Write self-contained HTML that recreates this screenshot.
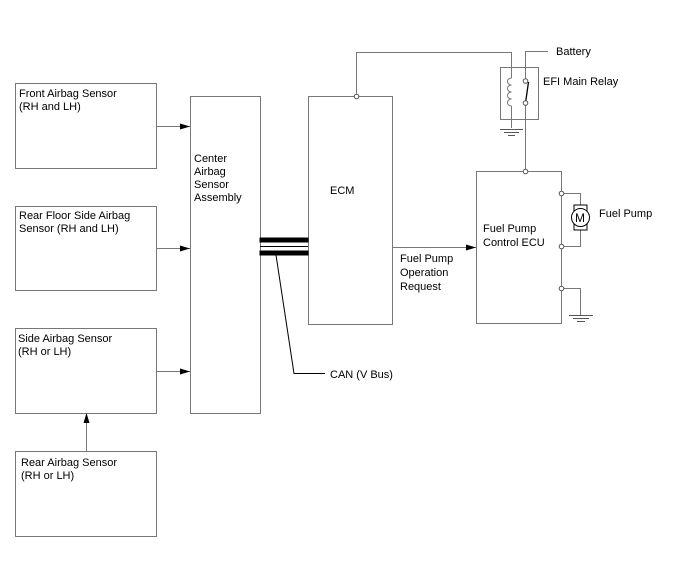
<!DOCTYPE html>
<html><head><style>
body{margin:0;background:#fff}
svg text{font-family:"Liberation Sans",Arial,sans-serif;font-size:11px;fill:#000}
</style></head><body>
<svg width="688" height="560" viewBox="0 0 688 560" xmlns="http://www.w3.org/2000/svg">
<defs><marker id="a" markerWidth="10" markerHeight="6" refX="10" refY="3" orient="auto" markerUnits="userSpaceOnUse"><path d="M0,0 L10,3 L0,6 Z" fill="#000"/></marker></defs>
<g fill="none" stroke="#777" stroke-width="1">
<rect x="15.5" y="83.5" width="141" height="85"/>
<rect x="15.5" y="206.5" width="141" height="84"/>
<rect x="15.5" y="328.5" width="141" height="85"/>
<rect x="15.5" y="451.5" width="141" height="85"/>
<rect x="190.5" y="96.5" width="70" height="317"/>
<rect x="308.5" y="96.5" width="84" height="228"/>
<rect x="476.5" y="171.5" width="85" height="152"/>
<rect x="500.5" y="67.5" width="38" height="52"/>
<path d="M356.5 96V52.5H511.5V78M511.5 106V128"/>
<path d="M525.5 103V171M525.5 81V51.5H548"/>
<path d="M561 193.5H580.5V206M580.5 229V246.5H561M561 288.5H580.5V315"/>
</g>
<g stroke="#777" fill="none">
<path d="M511.5 78 a4 3.5 0 0 0 0 7 a4 3.5 0 0 0 0 7 a4 3.5 0 0 0 0 7 a4 3.5 0 0 0 0 7"/>
</g>
<path d="M156 126.5H190" stroke="#777" marker-end="url(#a)"/>
<path d="M156 248.5H190" stroke="#777" marker-end="url(#a)"/>
<path d="M156 371.5H190" stroke="#777" marker-end="url(#a)"/>
<path d="M86.5 451V413" stroke="#777" marker-end="url(#a)"/>
<path d="M392 247.5H476" stroke="#777" marker-end="url(#a)"/>
<g stroke="#000">
<path d="M500 129.5H523M504 132.5H519M508 135.5H515" stroke="#555"/>
<path d="M569 315.5H593M573 318.5H589M577 321.5H585" stroke="#555"/>
<path d="M525.5 103L528.5 82" stroke-width="1.3"/>
<rect x="260" y="238" width="48" height="4" fill="#000"/>
<rect x="260" y="251" width="48" height="4" fill="#000"/>
<path d="M260 246.5H308" stroke-width="1"/>
<path d="M276 255L294 373.5H325" fill="none"/>
</g>
<rect x="574" y="205" width="13" height="25" fill="#fff" stroke="#000"/>
<circle cx="580.5" cy="217.5" r="9" fill="#fff" stroke="#000"/>
<text x="575" y="222" style="font-size:12px">M</text>
<g fill="#fff" stroke="#555">
<circle cx="356.5" cy="96.5" r="2.3"/>
<circle cx="525.5" cy="81" r="2.3"/>
<circle cx="525.5" cy="103" r="2.3"/>
<circle cx="525.5" cy="171.5" r="2.3"/>
<circle cx="561.5" cy="193.5" r="2.3"/>
<circle cx="561.5" cy="246.5" r="2.3"/>
<circle cx="561.5" cy="288.5" r="2.3"/>
</g>
<text x="19" y="97">Front Airbag Sensor</text><text x="19" y="110">(RH and LH)</text>
<text x="19" y="219">Rear Floor Side Airbag</text><text x="19" y="232">Sensor (RH and LH)</text>
<text x="18" y="342">Side Airbag Sensor</text><text x="18" y="355">(RH or LH)</text>
<text x="21" y="466">Rear Airbag Sensor</text><text x="21" y="479">(RH or LH)</text>
<text x="194" y="162">Center</text><text x="194" y="175">Airbag</text><text x="194" y="188">Sensor</text><text x="194" y="201">Assembly</text>
<text x="330" y="194">ECM</text>
<text x="483" y="232">Fuel Pump</text><text x="483" y="246">Control ECU</text>
<text x="400" y="262">Fuel Pump</text><text x="400" y="276">Operation</text><text x="400" y="290">Request</text>
<text x="556" y="55">Battery</text>
<text x="543" y="85">EFI Main Relay</text>
<text x="599" y="217">Fuel Pump</text>
<text x="330" y="378">CAN (V Bus)</text>
</svg>
</body></html>
